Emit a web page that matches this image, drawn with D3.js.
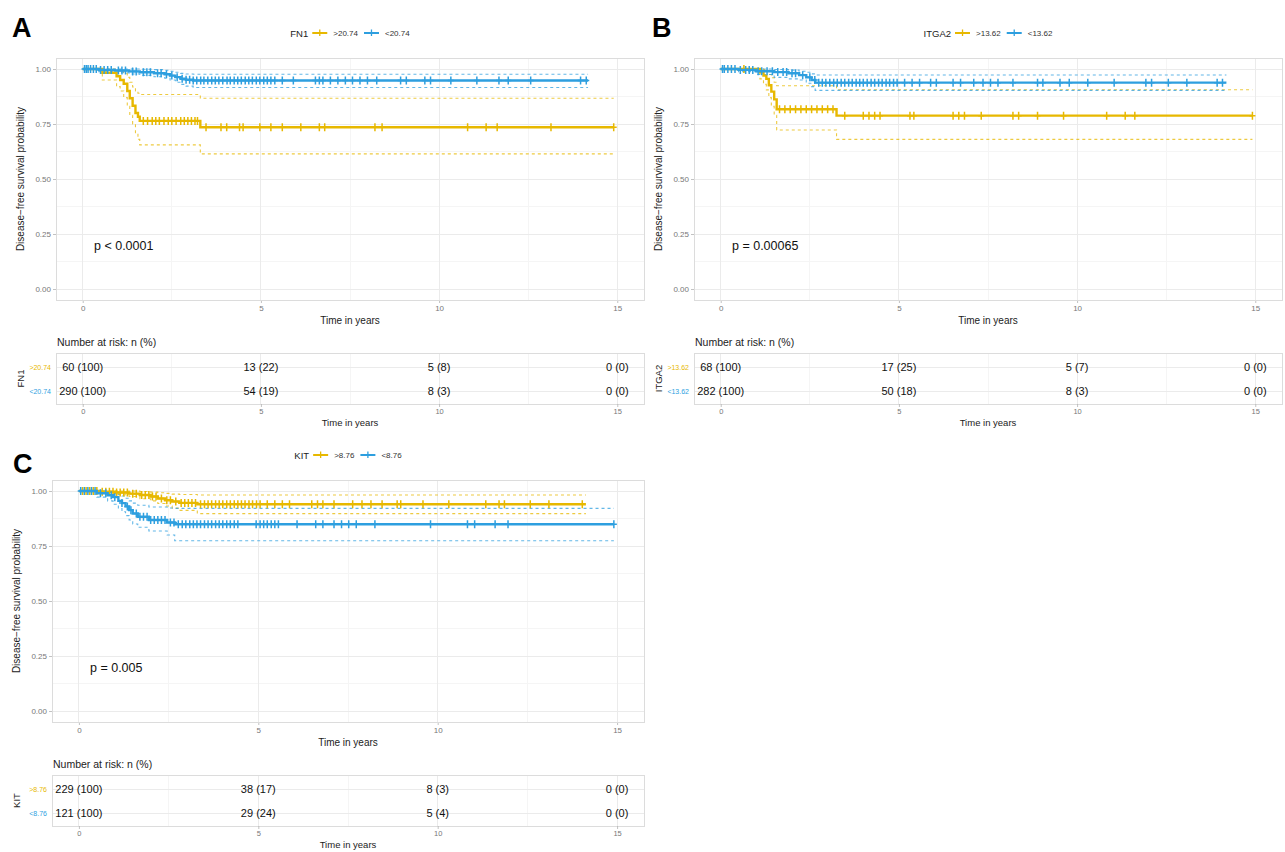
<!DOCTYPE html>
<html><head><meta charset="utf-8">
<script src="https://cdn.jsdelivr.net/npm/d3@7"></script>
<style>
body{margin:0;background:#fff;}
svg{display:block;font-family:"Liberation Sans",Arial,Helvetica,sans-serif;}
</style>
</head><body>
<svg id="chart" width="1285" height="852"></svg>
<script>
// ---------------- DATA ----------------
const panelLetters = ["A", "B", "C"];
const genes = ["FN1", "ITGA2", "KIT"];
const highLabels = [">20.74", ">13.62", ">8.76"];
const lowLabels = ["<20.74", "<13.62", "<8.76"];
const pValues = ["p < 0.0001", "p = 0.00065", "p = 0.005"];
const xTicks = [0, 5, 10, 15];
const yTicks = [0, 0.25, 0.5, 0.75, 1];
const riskTimes = [0, 5, 10, 15];

// Panel A – FN1 high (>20.74)
const A_high_time  = [0, 0.55, 0.95, 1.05, 1.15, 1.25, 1.32, 1.4, 1.48, 1.55, 1.6, 3.3, 14.9];
const A_high_surv  = [1, 0.983, 0.967, 0.95, 0.933, 0.9, 0.867, 0.833, 0.8, 0.783, 0.764, 0.735, 0.735];
const A_high_upper = [1, 1, 0.998, 0.99, 0.98, 0.962, 0.94, 0.918, 0.9, 0.89, 0.884, 0.867, 0.867];
const A_high_lower = [1, 0.95, 0.92, 0.9, 0.87, 0.83, 0.79, 0.75, 0.71, 0.68, 0.655, 0.614, 0.614];
const A_high_censor = [1.7, 1.82, 1.95, 2.05, 2.15, 2.28, 2.4, 2.5, 2.62, 2.75, 2.85, 2.95, 3.05, 3.15, 3.22, 3.46, 3.88, 4.04, 4.4, 4.5, 4.97, 5.28, 5.6, 6.12, 6.64, 6.79, 8.2, 8.4, 10.8, 11.32, 11.63, 13.14, 14.9];
// Panel A – FN1 low (<20.74)
const A_low_time  = [0, 0.45, 0.9, 1.3, 1.6, 2.0, 2.3, 2.45, 2.6, 2.75, 2.9, 3.1, 14.18];
const A_low_surv  = [1, 0.996, 0.993, 0.989, 0.985, 0.981, 0.976, 0.97, 0.963, 0.956, 0.951, 0.948, 0.948];
const A_low_upper = [1, 1, 1, 1, 0.999, 0.997, 0.994, 0.99, 0.985, 0.98, 0.977, 0.976, 0.976];
const A_low_lower = [1, 0.988, 0.983, 0.977, 0.971, 0.965, 0.958, 0.95, 0.94, 0.93, 0.922, 0.916, 0.916];
const A_low_censor = [0.05, 0.1, 0.15, 0.22, 0.3, 0.38, 0.5, 0.6, 0.7, 0.8, 1.0, 1.1, 1.2, 1.4, 1.5, 1.7, 1.8, 1.9, 2.1, 2.2, 2.35, 2.5, 2.65, 2.79, 2.9, 3.0, 3.1, 3.2, 3.31, 3.4, 3.51, 3.62, 3.72, 3.82, 3.93, 4.05, 4.14, 4.25, 4.35, 4.45, 4.56, 4.66, 4.76, 4.87, 4.97, 5.08, 5.18, 5.28, 5.39, 5.6, 5.91, 6.53, 6.64, 6.74, 6.95, 7.16, 7.37, 7.57, 7.78, 7.99, 8.25, 8.92, 9.08, 9.6, 9.76, 10.33, 11.06, 11.68, 11.94, 12.57, 13.97, 14.13];

// Panel B – ITGA2 high (>13.62)
const B_high_time  = [0, 1.1, 1.2, 1.28, 1.35, 1.42, 1.5, 1.57, 3.25, 14.92];
const B_high_surv  = [1, 0.985, 0.97, 0.955, 0.926, 0.897, 0.862, 0.817, 0.788, 0.788];
const B_high_upper = [1, 1, 0.998, 0.99, 0.975, 0.96, 0.94, 0.924, 0.906, 0.906];
const B_high_lower = [1, 0.955, 0.93, 0.905, 0.87, 0.83, 0.79, 0.723, 0.68, 0.68];
const B_high_censor = [0.65, 1.65, 1.8, 1.95, 2.1, 2.25, 2.4, 2.55, 2.7, 2.85, 3.0, 3.15, 3.48, 4.0, 4.16, 4.32, 4.47, 5.31, 5.42, 6.52, 6.68, 6.84, 7.31, 8.2, 8.36, 8.89, 9.62, 10.83, 11.35, 11.62, 14.92];
// Panel B – ITGA2 low (<13.62)
const B_low_time  = [0, 0.5, 1.0, 1.5, 1.9, 2.2, 2.4, 2.55, 2.65, 14.19];
const B_low_surv  = [1, 0.996, 0.99, 0.986, 0.981, 0.972, 0.962, 0.95, 0.938, 0.938];
const B_low_upper = [1, 1, 1, 0.998, 0.995, 0.99, 0.985, 0.978, 0.973, 0.973];
const B_low_lower = [1, 0.988, 0.975, 0.962, 0.955, 0.95, 0.935, 0.92, 0.903, 0.903];
const B_low_censor = [0.05, 0.1, 0.2, 0.3, 0.4, 0.55, 0.7, 0.8, 0.9, 1.05, 1.15, 1.3, 1.45, 1.6, 1.75, 1.85, 2.0, 2.1, 2.3, 2.5, 2.64, 2.75, 2.85, 2.95, 3.06, 3.17, 3.27, 3.38, 3.48, 3.59, 3.69, 3.8, 3.9, 4.0, 4.11, 4.22, 4.32, 4.43, 4.53, 4.64, 4.74, 4.85, 4.95, 5.16, 5.37, 5.58, 5.89, 6.05, 6.52, 6.73, 7.1, 7.36, 7.57, 7.78, 8.2, 8.89, 9.04, 9.52, 9.78, 10.3, 11.04, 11.93, 12.09, 12.56, 13.08, 13.93, 14.08];

// Panel C – KIT high (>8.76)
const C_high_time  = [0, 0.6, 1.0, 1.4, 1.7, 2.0, 2.2, 2.4, 2.6, 2.8, 3.3, 14.13];
const C_high_surv  = [1, 0.997, 0.993, 0.988, 0.982, 0.975, 0.966, 0.958, 0.952, 0.946, 0.94, 0.94];
const C_high_upper = [1, 1, 1, 1, 0.998, 0.995, 0.992, 0.989, 0.986, 0.984, 0.982, 0.982];
const C_high_lower = [1, 0.99, 0.983, 0.975, 0.965, 0.955, 0.943, 0.932, 0.922, 0.912, 0.897, 0.897];
const C_high_censor = [0.1, 0.2, 0.3, 0.4, 0.5, 0.65, 0.75, 0.85, 0.95, 1.05, 1.15, 1.25, 1.35, 1.5, 1.6, 1.75, 1.85, 1.95, 2.05, 2.15, 2.3, 2.45, 2.55, 2.7, 2.85, 2.95, 3.05, 3.15, 3.25, 3.39, 3.5, 3.6, 3.7, 3.81, 3.91, 4.01, 4.12, 4.22, 4.33, 4.43, 4.53, 4.63, 4.74, 4.84, 4.95, 5.05, 5.25, 5.46, 5.67, 5.87, 6.49, 6.65, 6.8, 7.11, 7.63, 7.89, 8.14, 8.45, 8.87, 8.97, 9.59, 10.31, 11.34, 11.71, 11.86, 12.58, 13.1, 14.03];
// Panel C – KIT low (<8.76)
const C_low_time  = [0, 0.5, 0.8, 0.95, 1.1, 1.2, 1.3, 1.4, 1.5, 1.64, 1.95, 2.46, 2.67, 14.91];
const C_low_surv  = [1, 0.99, 0.981, 0.972, 0.955, 0.945, 0.93, 0.913, 0.898, 0.883, 0.868, 0.857, 0.849, 0.849];
const C_low_upper = [1, 1, 0.998, 0.993, 0.985, 0.977, 0.967, 0.955, 0.945, 0.935, 0.927, 0.923, 0.921, 0.921];
const C_low_lower = [1, 0.972, 0.955, 0.94, 0.92, 0.906, 0.888, 0.868, 0.85, 0.835, 0.818, 0.8, 0.774, 0.774];
const C_low_censor = [0.05, 0.15, 0.25, 0.35, 0.45, 0.6, 0.75, 0.9, 1.0, 1.2, 1.35, 1.45, 1.6, 1.7, 1.8, 1.9, 2.0, 2.1, 2.2, 2.3, 2.4, 2.55, 2.65, 2.77, 2.88, 2.98, 3.09, 3.19, 3.29, 3.39, 3.5, 3.6, 3.7, 3.81, 3.91, 4.01, 4.12, 4.22, 4.33, 4.43, 4.94, 5.05, 5.15, 5.25, 5.36, 5.46, 5.56, 6.08, 6.6, 6.8, 7.11, 7.32, 7.52, 7.73, 8.25, 9.8, 10.83, 11.03, 11.6, 11.96, 14.91];

// Number at risk: n and (%)
const A_risk_high_n = [60, 13, 5, 0],   A_risk_high_pct = [100, 22, 8, 0];
const A_risk_low_n  = [290, 54, 8, 0],  A_risk_low_pct  = [100, 19, 3, 0];
const B_risk_high_n = [68, 17, 5, 0],   B_risk_high_pct = [100, 25, 7, 0];
const B_risk_low_n  = [282, 50, 8, 0],  B_risk_low_pct  = [100, 18, 3, 0];
const C_risk_high_n = [229, 38, 8, 0],  C_risk_high_pct = [100, 17, 3, 0];
const C_risk_low_n  = [121, 29, 5, 0],  C_risk_low_pct  = [100, 24, 4, 0];

// ---------------- STYLE / LAYOUT ----------------
const COL_HIGH = "#E7B800", COL_LOW = "#2E9FDF";
const layouts = [
  {x0: 56,  x1: 644,  top: 58,  bottom: 300, letterX: 12,  letterY: 37},
  {x0: 694, x1: 1282, top: 58,  bottom: 300, letterX: 652, letterY: 37},
  {x0: 52,  x1: 644,  top: 480, bottom: 722, letterX: 13,  letterY: 473}
];

const series = [
  {high: {time: A_high_time, surv: A_high_surv, upper: A_high_upper, lower: A_high_lower, censor: A_high_censor},
   low:  {time: A_low_time,  surv: A_low_surv,  upper: A_low_upper,  lower: A_low_lower,  censor: A_low_censor},
   riskHigh: [A_risk_high_n, A_risk_high_pct], riskLow: [A_risk_low_n, A_risk_low_pct]},
  {high: {time: B_high_time, surv: B_high_surv, upper: B_high_upper, lower: B_high_lower, censor: B_high_censor},
   low:  {time: B_low_time,  surv: B_low_surv,  upper: B_low_upper,  lower: B_low_lower,  censor: B_low_censor},
   riskHigh: [B_risk_high_n, B_risk_high_pct], riskLow: [B_risk_low_n, B_risk_low_pct]},
  {high: {time: C_high_time, surv: C_high_surv, upper: C_high_upper, lower: C_high_lower, censor: C_high_censor},
   low:  {time: C_low_time,  surv: C_low_surv,  upper: C_low_upper,  lower: C_low_lower,  censor: C_low_censor},
   riskHigh: [C_risk_high_n, C_risk_high_pct], riskLow: [C_risk_low_n, C_risk_low_pct]}
];

const svg = d3.select("#chart");
svg.append("rect").attr("width", 1285).attr("height", 852).attr("fill", "#fff");

function survAt(s, t) {
  let v = s.surv[0];
  for (let i = 0; i < s.time.length; i++) { if (s.time[i] <= t) v = s.surv[i]; }
  return v;
}

function styleAxis(sel) {
  sel.select(".domain").remove();
  sel.selectAll(".tick line").attr("stroke", "#b3b3b3").attr("stroke-width", 0.8);
  sel.selectAll(".tick text").attr("fill", "#777").attr("font-size", 8)
     .attr("font-family", "'Liberation Sans',Arial,sans-serif");
}

function drawGrid(g, x, y, L, top, bottom, yMinor, yMajor) {
  g.append("rect").attr("x", L.x0).attr("y", top).attr("width", L.x1 - L.x0).attr("height", bottom - top).attr("fill", "#fff");
  const gg = g.append("g").attr("shape-rendering", "crispEdges");
  [2.5, 7.5, 12.5].forEach(v => gg.append("line").attr("x1", x(v)).attr("x2", x(v)).attr("y1", top).attr("y2", bottom)
    .attr("stroke", "#f5f5f5").attr("stroke-width", 1));
  yMinor.forEach(v => gg.append("line").attr("x1", L.x0).attr("x2", L.x1).attr("y1", y(v)).attr("y2", y(v))
    .attr("stroke", "#f5f5f5").attr("stroke-width", 1));
  xTicks.forEach(v => gg.append("line").attr("x1", x(v)).attr("x2", x(v)).attr("y1", top).attr("y2", bottom)
    .attr("stroke", "#ebebeb").attr("stroke-width", 1));
  yMajor.forEach(v => gg.append("line").attr("x1", L.x0).attr("x2", L.x1).attr("y1", y(v)).attr("y2", y(v))
    .attr("stroke", "#ebebeb").attr("stroke-width", 1));
}

function drawPanel(i) {
  const L = layouts[i], S = series[i];
  const g = svg.append("g");
  const x = d3.scaleLinear().domain([-0.75, 15.75]).range([L.x0, L.x1]);
  const y = d3.scaleLinear().domain([-0.05, 1.05]).range([L.bottom, L.top]);
  const cx = (L.x0 + L.x1) / 2;

  // letter
  g.append("text").attr("x", L.letterX).attr("y", L.letterY).attr("font-size", 27).attr("font-weight", "bold")
    .attr("fill", "#000").text(panelLetters[i]);

  // grid
  drawGrid(g, x, y, L, L.top, L.bottom, [0.125, 0.375, 0.625, 0.875], yTicks);

  // axes
  const ax = g.append("g").attr("transform", `translate(0,${L.bottom})`)
    .call(d3.axisBottom(x).tickValues(xTicks).tickSize(3).tickPadding(2).tickFormat(d3.format("d")));
  styleAxis(ax);
  const ay = g.append("g").attr("transform", `translate(${L.x0},0)`)
    .call(d3.axisLeft(y).tickValues(yTicks).tickSize(3).tickPadding(2).tickFormat(d3.format(".2f")));
  styleAxis(ay);

  g.append("text").attr("x", cx).attr("y", L.bottom + 24).attr("text-anchor", "middle").attr("font-size", 10)
    .attr("fill", "#222").text("Time in years");
  g.append("text").attr("transform", `translate(${L.x0 - 32},${(L.top + L.bottom) / 2}) rotate(-90)`)
    .attr("text-anchor", "middle").attr("font-size", 10).attr("fill", "#222").text("Disease\u2212free survival probability");

  // curves
  const line = d3.line().x(d => x(d[0])).y(d => y(d[1])).curve(d3.curveStepAfter);
  const strata = [[S.high, COL_HIGH], [S.low, COL_LOW]];
  const clip = "clip" + i;
  svg.append("clipPath").attr("id", clip).append("rect").attr("x", L.x0).attr("y", L.top)
    .attr("width", L.x1 - L.x0).attr("height", L.bottom - L.top);
  const cg = g.append("g").attr("clip-path", `url(#${clip})`);
  strata.forEach(([s, col]) => {
    ["upper", "lower"].forEach(k => {
      cg.append("path").datum(s.time.map((t, j) => [t, s[k][j]])).attr("d", line)
        .attr("fill", "none").attr("stroke", col).attr("stroke-width", 1.1).attr("stroke-dasharray", "3,3")
        .attr("opacity", 0.75);
    });
  });
  strata.forEach(([s, col]) => {
    cg.append("path").datum(s.time.map((t, j) => [t, s.surv[j]])).attr("d", line)
      .attr("fill", "none").attr("stroke", col).attr("stroke-width", 2.4);
    cg.selectAll(null).data(s.censor).enter().append("path")
      .attr("transform", d => `translate(${x(d)},${y(survAt(s, d))})`)
      .attr("d", "M-3,0H3M0,-4V4").attr("stroke", col).attr("stroke-width", 1.5).attr("fill", "none");
  });
  g.append("rect").attr("x", L.x0).attr("y", L.top).attr("width", L.x1 - L.x0).attr("height", L.bottom - L.top)
    .attr("fill", "none").attr("stroke", "#dcdcdc").attr("stroke-width", 1).attr("shape-rendering", "crispEdges");

  // p-value
  g.append("text").attr("x", L.x0 + 38).attr("y", L.top + 192).attr("font-size", 12.5).attr("fill", "#111").text(pValues[i]);

  // legend
  const lg = g.append("g").attr("transform", `translate(0,${L.top - 25})`);
  const items = [];
  const t0 = lg.append("text").attr("font-size", 9.5).attr("fill", "#222").attr("y", 3.5).text(genes[i]);
  items.push({node: t0, w: t0.node().getComputedTextLength(), gap: 4});
  [[highLabels[i], COL_HIGH], [lowLabels[i], COL_LOW]].forEach(([lab, col]) => {
    const key = lg.append("g");
    key.append("line").attr("x1", 0).attr("x2", 15).attr("stroke", col).attr("stroke-width", 2);
    key.append("path").attr("d", "M4.5,0H10.5M7.5,-3.5V3").attr("stroke", col).attr("stroke-width", 1.3);
    items.push({node: key, w: 15, gap: 6, key: true});
    const tt = lg.append("text").attr("font-size", 8).attr("fill", "#333").attr("y", 3).text(lab);
    items.push({node: tt, w: tt.node().getComputedTextLength(), gap: 6});
  });
  const total = d3.sum(items, d => d.w) + d3.sum(items.slice(0, -1), d => d.gap);
  let cur = cx - total / 2;
  items.forEach(it => {
    if (it.key) it.node.attr("transform", `translate(${cur},0)`); else it.node.attr("x", cur);
    cur += it.w + it.gap;
  });

  // risk table
  const rTop = L.bottom + 53, rBot = L.bottom + 104;
  g.append("text").attr("x", L.x0 + 1).attr("y", L.bottom + 46).attr("font-size", 10.5).attr("fill", "#222")
    .text("Number at risk: n (%)");
  const yr = d3.scalePoint().domain(["high", "low"]).range([rTop + 14, rBot - 13]);
  drawGrid(g, x, d => yr(d), L, rTop, rBot, [], ["high", "low"]);
  g.append("rect").attr("x", L.x0).attr("y", rTop).attr("width", L.x1 - L.x0).attr("height", rBot - rTop)
    .attr("fill", "none").attr("stroke", "#dcdcdc").attr("stroke-width", 1).attr("shape-rendering", "crispEdges");
  [["high", S.riskHigh, COL_HIGH, highLabels[i]], ["low", S.riskLow, COL_LOW, lowLabels[i]]].forEach(([k, r, col, lab]) => {
    g.selectAll(null).data(riskTimes).enter().append("text")
      .attr("x", d => x(d)).attr("y", yr(k) + 4).attr("text-anchor", "middle").attr("font-size", 11).attr("fill", "#111")
      .text((d, j) => `${r[0][j]} (${r[1][j]})`);
    g.append("text").attr("x", L.x0 - 5).attr("y", yr(k) + 2.5).attr("text-anchor", "end").attr("font-size", 7)
      .attr("fill", col).text(lab);
  });
  g.append("text").attr("transform", `translate(${L.x0 - 32},${(rTop + rBot) / 2}) rotate(-90)`)
    .attr("text-anchor", "middle").attr("font-size", 9.5).attr("fill", "#222").text(genes[i]);
  const rx = g.append("g").attr("transform", `translate(0,${rBot})`)
    .call(d3.axisBottom(x).tickValues(xTicks).tickSize(3).tickPadding(2).tickFormat(d3.format("d")));
  styleAxis(rx);
  rx.selectAll(".tick text").attr("font-size", 7.5);
  g.append("text").attr("x", cx).attr("y", rBot + 22).attr("text-anchor", "middle").attr("font-size", 9.5)
    .attr("fill", "#222").text("Time in years");
}

[0, 1, 2].forEach(drawPanel);
</script>
</body></html>
